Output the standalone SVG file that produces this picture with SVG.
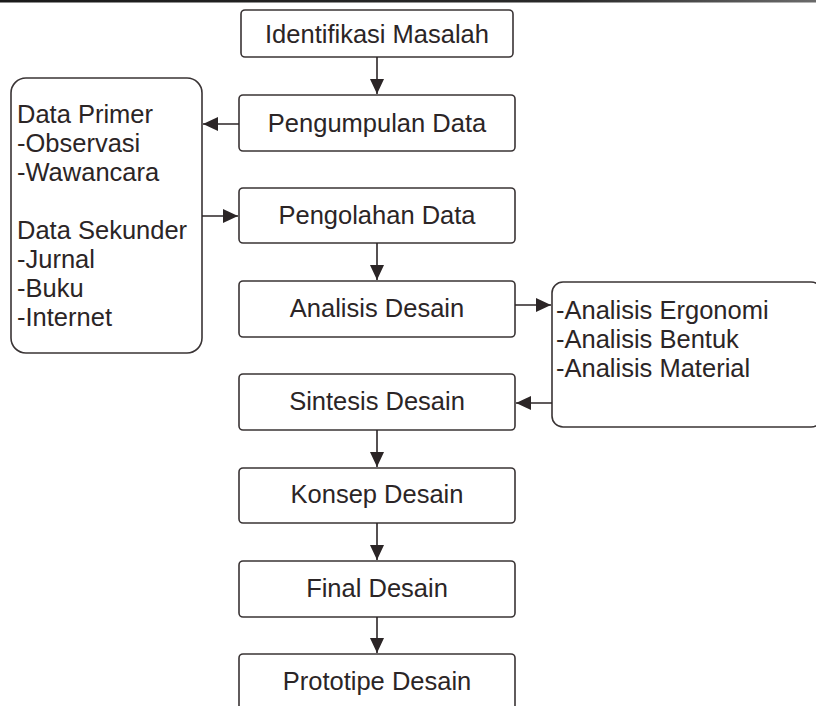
<svg xmlns="http://www.w3.org/2000/svg" width="816" height="706" viewBox="0 0 816 706">
<defs>
<linearGradient id="bar" x1="0" y1="0" x2="1" y2="0">
<stop offset="0" stop-color="#1a1a1a"/>
<stop offset="0.7" stop-color="#2a2a2a"/>
<stop offset="1" stop-color="#6a6a6a"/>
</linearGradient>
<marker id="ah" viewBox="0 0 15 14" refX="15" refY="7" markerWidth="15" markerHeight="14" markerUnits="userSpaceOnUse" orient="auto">
<path d="M0,0 L15,7 L0,14 Z" fill="#2b2526"/>
</marker>
</defs>
<style>
.box{fill:#fff;stroke:#3a3435;stroke-width:1.6}
.t{font-family:"Liberation Sans",Arial,sans-serif;font-size:25.5px;fill:#2b2526}
.c{text-anchor:middle}
.ln{stroke:#2b2526;stroke-width:1.6;fill:none;marker-end:url(#ah)}
</style>
<rect x="0" y="0" width="816" height="706" fill="#fff"/>
<rect x="0" y="0" width="816" height="2.5" fill="url(#bar)"/>
<g id="n-identifikasi"><rect class="box" x="241" y="10" width="272" height="47" rx="4"/><text class="t c" x="377" y="43">Identifikasi Masalah</text></g>
<g id="n-pengumpulan"><rect class="box" x="239" y="95" width="276" height="56" rx="4"/><text class="t c" x="377" y="132">Pengumpulan Data</text></g>
<g id="n-pengolahan"><rect class="box" x="239" y="188" width="276" height="55" rx="4"/><text class="t c" x="377" y="224">Pengolahan Data</text></g>
<g id="n-analisis"><rect class="box" x="239" y="281" width="276" height="56" rx="4"/><text class="t c" x="377" y="317">Analisis Desain</text></g>
<g id="n-sintesis"><rect class="box" x="239" y="374" width="276" height="56" rx="4"/><text class="t c" x="377" y="410">Sintesis Desain</text></g>
<g id="n-konsep"><rect class="box" x="239" y="468" width="276" height="55" rx="4"/><text class="t c" x="377" y="503">Konsep Desain</text></g>
<g id="n-final"><rect class="box" x="239" y="561" width="276" height="56" rx="4"/><text class="t c" x="377" y="597">Final Desain</text></g>
<g id="n-prototipe"><rect class="box" x="239" y="654" width="276" height="70" rx="4"/><text class="t c" x="377" y="690">Prototipe Desain</text></g>
<g id="n-data"><rect class="box" x="11" y="78" width="191" height="275" rx="15"/>
<text class="t" x="17" y="123">Data Primer</text>
<text class="t" x="17" y="152">-Observasi</text>
<text class="t" x="17" y="181">-Wawancara</text>
<text class="t" x="17" y="239">Data Sekunder</text>
<text class="t" x="17" y="268">-Jurnal</text>
<text class="t" x="17" y="297">-Buku</text>
<text class="t" x="17" y="326">-Internet</text>
</g>
<g id="n-analisis-list"><rect class="box" x="552" y="282" width="270" height="145" rx="11"/>
<text class="t" x="556" y="319">-Analisis Ergonomi</text>
<text class="t" x="556" y="348">-Analisis Bentuk</text>
<text class="t" x="556" y="377">-Analisis Material</text>
</g>
<g id="connectors">
<line class="ln" x1="377" y1="57" x2="377" y2="94"/>
<line class="ln" x1="239" y1="124" x2="203" y2="124"/>
<line class="ln" x1="202" y1="216" x2="238" y2="216"/>
<line class="ln" x1="377" y1="243" x2="377" y2="280"/>
<line class="ln" x1="515" y1="305" x2="551" y2="305"/>
<line class="ln" x1="552" y1="403" x2="516" y2="403"/>
<line class="ln" x1="377" y1="430" x2="377" y2="467"/>
<line class="ln" x1="377" y1="523" x2="377" y2="560"/>
<line class="ln" x1="377" y1="617" x2="377" y2="653"/>
</g>
</svg>
